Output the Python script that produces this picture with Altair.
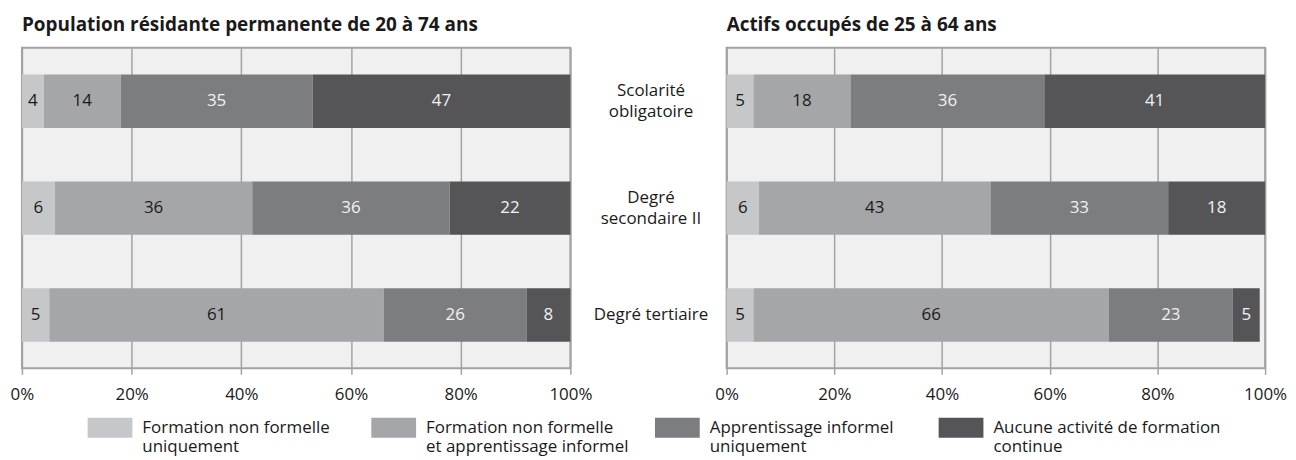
import altair as alt
import pandas as pd

categories = ["Scolarité obligatoire", "Degré secondaire II", "Degré tertiaire"]
category_labels = ["Scolarité\nobligatoire", "Degré\nsecondaire II", "Degré tertiaire"]
series = [
    "Formation non formelle uniquement",
    "Formation non formelle et apprentissage informel",
    "Apprentissage informel uniquement",
    "Aucune activité de formation continue",
]
series_lines = [
    ["Formation non formelle", "uniquement"],
    ["Formation non formelle", "et apprentissage informel"],
    ["Apprentissage informel", "uniquement"],
    ["Aucune activité de formation", "continue"],
]
colors = ["#c6c7c8", "#a5a6a8", "#7c7d7f", "#555557"]

left_title = "Population résidante permanente de 20 à 74 ans"
left_values = [
    [4, 14, 35, 47],
    [6, 36, 36, 22],
    [5, 61, 26, 8],
]
right_title = "Actifs occupés de 25 à 64 ans"
right_values = [
    [5, 18, 36, 41],
    [6, 43, 33, 18],
    [5, 66, 23, 5],
]
tick_values = [0, 20, 40, 60, 80, 100]

FONT = "Open Sans"
TXT = "#1a1a1a"
FRAME = "#a3a3a3"
FS = 17


def build_df(values):
    rows = []
    for ci, cat in enumerate(categories):
        cum = 0
        for si, s in enumerate(series):
            v = values[ci][si]
            rows.append(dict(category=cat, series=s, idx=si, value=v,
                             start=cum, end=cum + v, mid=cum + v / 2))
            cum += v
    return pd.DataFrame(rows)


y_scale = alt.Scale(domain=categories, paddingInner=0.5, paddingOuter=0.25)

label_expr = " : ".join(
    f"datum.label == '{s}' ? {lines!r}" for s, lines in zip(series, series_lines)
) + " : datum.label"

H = 322


def panel(values, title, width):
    df = build_df(values)
    base = alt.Chart(df)
    bars = base.mark_bar(stroke=None).encode(
        x=alt.X("start:Q", scale=alt.Scale(domain=[0, 100], nice=False),
                axis=alt.Axis(values=tick_values, labelExpr="datum.value + '%'",
                              grid=True, gridColor=FRAME, gridWidth=1.5,
                              domain=False, ticks=True, tickColor=FRAME,
                              tickWidth=1.5, tickSize=6, labelFont=FONT,
                              labelFontSize=FS, labelColor=TXT, labelPadding=12,
                              labelFlush=False, labelOverlap=False,
                              title=None)),
        x2="end:Q",
        y=alt.Y("category:N", scale=y_scale, axis=None),
        color=alt.Color("series:N", scale=alt.Scale(domain=series, range=colors),
                        legend=alt.Legend(
                            orient="none", legendX=66, legendY=364,
                            direction="horizontal", columns=4, title=None,
                            symbolType="M-1,-0.667H1V0.222H-1Z", symbolSize=2025,
                            symbolStrokeWidth=0, symbolOpacity=1,
                            labelExpr=label_expr, labelFont=FONT,
                            labelFontSize=FS, labelColor=TXT, labelLimit=400,
                            labelBaseline="alphabetic", labelOffset=10,
                            columnPadding=1, gridAlign="all")),
    )
    dark_txt = base.mark_text(font=FONT, fontSize=FS, color=TXT).encode(
        x="mid:Q", y=alt.Y("category:N", scale=y_scale, axis=None),
        text="value:Q",
    ).transform_filter("datum.idx < 2")
    light_txt = base.mark_text(font=FONT, fontSize=FS, color="#f2f2f2").encode(
        x="mid:Q", y=alt.Y("category:N", scale=y_scale, axis=None),
        text="value:Q",
    ).transform_filter("datum.idx >= 2")
    return alt.layer(bars, dark_txt, light_txt).properties(
        width=width, height=H,
        title=alt.TitleParams(title, anchor="start", font=FONT, fontSize=19,
                              fontWeight="bold", color=TXT, offset=13,
                              frame="group"),
        view=alt.ViewBackground(fill="#eff0ef", stroke=FRAME, strokeWidth=2),
    )


mid_df = pd.DataFrame({
    "category": categories,
    "label": category_labels,
    "multi": ["\n" in s for s in category_labels],
})
mid_base = alt.Chart(mid_df)
mid_y = alt.Y("category:N", scale=y_scale, axis=None)
mid_multi = mid_base.mark_text(
    font=FONT, fontSize=FS, color=TXT, lineBreak="\n", lineHeight=21,
    align="center", baseline="middle", dy=-10,
).encode(x=alt.value(58), y=mid_y, text="label:N").transform_filter("datum.multi")
mid_single = mid_base.mark_text(
    font=FONT, fontSize=FS, color=TXT, align="center", baseline="middle",
).encode(x=alt.value(58), y=mid_y, text="label:N").transform_filter("!datum.multi")
middle = alt.layer(mid_multi, mid_single).properties(
    width=129, height=H, view=alt.ViewBackground(fill=None, stroke=None))

chart = alt.hconcat(
    panel(left_values, left_title, 551), middle, panel(right_values, right_title, 541),
    spacing=-8,
).resolve_scale(y="shared").properties(
    padding={"left": 1, "top": 6, "right": 0, "bottom": 0},
    background="white",
)

chart.save("out.html", embed_options={"renderer": "svg", "actions": False})
